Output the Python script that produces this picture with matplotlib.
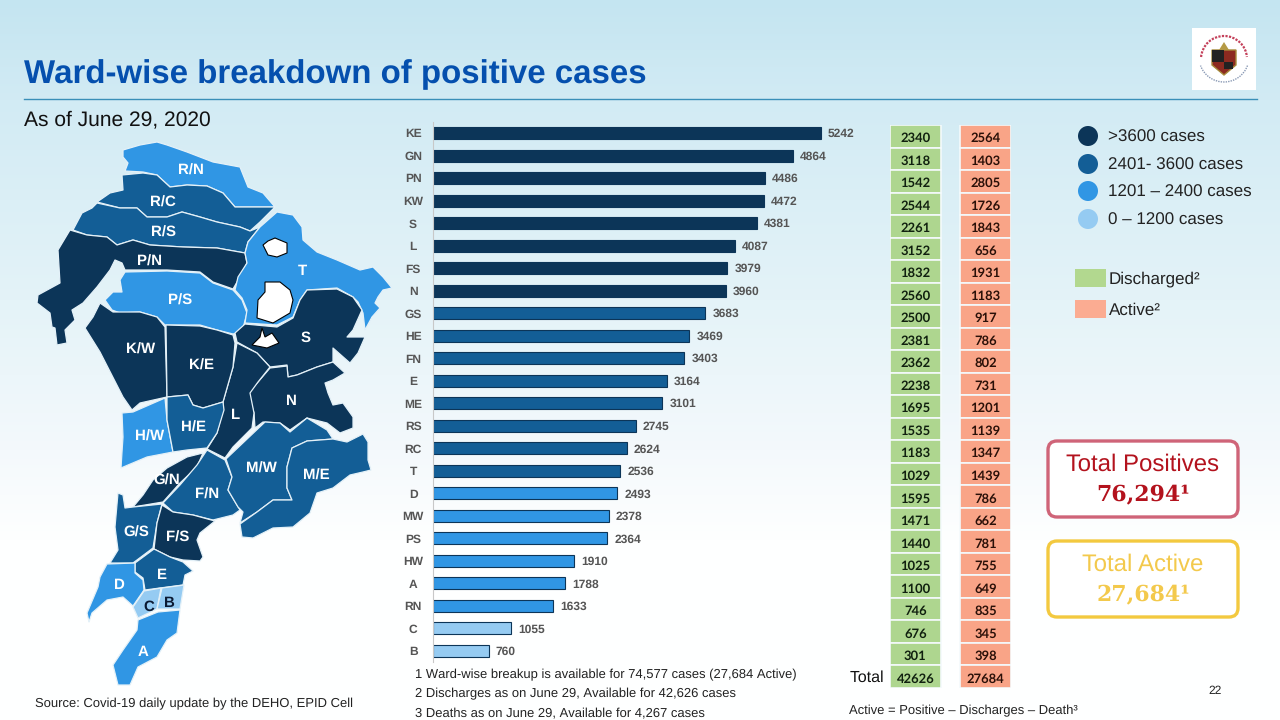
import numpy as np
import matplotlib
matplotlib.use("Agg")
import matplotlib.pyplot as plt
from matplotlib.patches import Polygon, Circle, Rectangle, FancyBboxPatch, Arc

plt.rcParams['font.family'] = ['Liberation Sans', 'DejaVu Sans']
plt.rcParams['text.hinting'] = 'no_hinting'
plt.rcParams['text.hinting_factor'] = 1

# data
wards = ["KE", "GN", "PN", "KW", "S", "L", "FS", "N", "GS", "HE", "FN", "E",
         "ME", "RS", "RC", "T", "D", "MW", "PS", "HW", "A", "RN", "C", "B"]
positives = [5242, 4864, 4486, 4472, 4381, 4087, 3979, 3960, 3683, 3469, 3403, 3164,
             3101, 2745, 2624, 2536, 2493, 2378, 2364, 1910, 1788, 1633, 1055, 760]
# colour band of each bar on the slide: 0 darkest .. 3 lightest
bar_bands = [0, 0, 0, 0, 0, 0, 0, 0, 1, 1, 1, 1,
             1, 1, 1, 1, 2, 2, 2, 2, 2, 2, 3, 3]
discharged = [2340, 3118, 1542, 2544, 2261, 3152, 1832, 2560, 2500, 2381, 2362, 2238,
              1695, 1535, 1183, 1029, 1595, 1471, 1440, 1025, 1100, 746, 676, 301]
active = [2564, 1403, 2805, 1726, 1843, 656, 1931, 1183, 917, 786, 802, 731,
          1201, 1139, 1347, 1439, 786, 662, 781, 755, 649, 835, 345, 398]
total_discharged = 42626
total_active = 27684

legend_labels = [">3600 cases", "2401- 3600 cases", "1201 – 2400 cases", "0 – 1200 cases"]
footnotes = ["1 Ward-wise breakup is available for 74,577 cases (27,684 Active)",
             "2 Discharges as on June 29, Available for 42,626 cases",
             "3 Deaths as on June 29, Available for 4,267 cases"]

DARK, MID, BRIGHT, LIGHT = "#0c3558", "#135e96", "#3096e4", "#95cbf2"
GREEN, SALMON = "#aed68f", "#f9a487"
BAND_COLORS = [DARK, MID, BRIGHT, LIGHT]

# ward outlines of the map, traced in slide pixels: label, band, label position, outline
map_shapes = [
    ("R/N", 2, (191, 171), [(123,150),(140,145),(157,142),(167,145),(187,152),(213,162),(240,167),(248,187),(263,193),(275,207),(260,207),(235,207),(223,193),(207,186),(187,185),(170,187),(157,175),(143,172),(125,171),(128,163),(123,157)]),
    ("R/C", 1, (163, 203), [(97,202),(110,193),(123,190),(122,175),(143,173),(157,175),(170,187),(187,185),(207,186),(223,193),(235,207),(260,207),(275,207),(260,222),(250,231),(240,227),(217,222),(200,217),(182,212),(167,217),(147,217),(137,208),(120,208)]),
    ("R/S", 1, (163, 233), [(73,230),(82,213),(92,208),(97,203),(120,208),(137,208),(147,217),(167,217),(182,212),(200,217),(217,222),(240,227),(250,231),(260,227),(248,242),(245,253),(217,248),(183,247),(150,245),(133,240),(117,245),(107,237),(87,235)]),
    ("P/N", 0, (149, 262), [(70,230),(87,235),(107,237),(117,245),(133,240),(150,245),(183,247),(217,248),(245,253),(247,263),(240,277),(233,289),(213,282),(200,272),(167,270),(125,270),(122,263),(115,260),(110,270),(97,287),(83,303),(72,310),(75,320),(65,330),(67,343),(57,345),(55,328),(52,327),(50,313),(37,303),(38,295),(60,283),(58,250)]),
    ("P/S", 2, (180, 301), [(125,272),(167,271),(200,273),(213,283),(233,290),(242,300),(247,313),(242,332),(233,334),(217,330),(200,325),(165,325),(157,317),(140,312),(120,313),(112,310),(105,300),(113,292),(122,292),(120,280)]),
    ("T", 2, (302, 271), [(277,212),(293,215),(302,227),(303,240),(317,252),(337,260),(360,270),(373,267),(383,277),(392,288),(383,290),(378,297),(375,303),(380,308),(372,317),(365,330),(363,313),(358,302),(353,297),(337,288),(307,290),(300,300),(293,317),(277,325),(245,323),(247,310),(242,298),(235,290),(238,277),(247,263),(245,253),(248,242),(260,227)]),
    ("S", 0, (306, 338), [(245,324),(277,327),(293,318),(300,300),(307,290),(337,289),(353,297),(362,310),(353,330),(347,337),(365,337),(358,353),(350,363),(333,348),(333,362),(317,367),(297,375),(288,377),(287,365),(270,367),(257,353),(237,342),(235,333)]),
    ("N", 0, (291, 401), [(270,368),(287,366),(288,377),(297,375),(317,367),(333,362),(345,373),(333,380),(325,383),(328,393),(333,405),(343,403),(353,417),(353,428),(340,433),(327,423),(307,418),(290,430),(280,423),(263,422),(255,428),(254,413),(248,393),(258,382)]),
    ("L", 0, (236, 415), [(237,343),(257,353),(270,367),(258,382),(250,393),(254,413),(252,428),(233,447),(225,458),(207,449),(217,433),(223,410),(223,402),(233,367)]),
    ("K/W", 0, (141, 350), [(100,303),(113,312),(140,312),(157,317),(165,327),(167,397),(140,403),(132,410),(123,397),(100,352),(85,328),(93,317)]),
    ("K/E", 0, (201, 366), [(166,325),(200,326),(217,330),(233,335),(235,343),(233,367),(223,402),(203,408),(193,405),(188,395),(167,397)]),
    ("H/W", 2, (150, 437), [(122,413),(133,412),(165,398),(167,420),(173,452),(147,457),(128,465),(121,468),(122,452),(123,437)]),
    ("H/E", 1, (193, 428), [(167,397),(188,395),(193,405),(203,408),(223,402),(224,410),(217,433),(207,448),(187,450),(173,452),(167,420)]),
    ("G/N", 0, (167, 481), [(203,453),(197,467),(180,483),(163,502),(133,507),(143,495),(153,480),(167,468),(187,457)]),
    ("F/N", 1, (207, 495), [(207,450),(225,460),(232,477),(228,490),(240,510),(233,515),(213,520),(193,515),(173,512),(163,503),(180,485),(197,465)]),
    ("M/W", 1, (261, 469), [(265,422),(280,423),(290,432),(307,418),(327,430),(333,439),(307,441),(292,448),(287,467),(287,488),(292,500),(273,500),(257,512),(240,523),(243,512),(238,507),(228,490),(232,477),(226,459)]),
    ("M/E", 1, (316, 476), [(240,524),(257,512),(273,500),(292,500),(287,488),(287,467),(292,448),(307,441),(333,439),(347,442),(363,434),(368,442),(368,460),(371,470),(363,472),(350,475),(333,488),(317,493),(310,513),(293,527),(273,528),(253,538),(242,537)]),
    ("G/S", 1, (136, 533), [(118,493),(123,495),(125,508),(133,507),(162,504),(157,523),(153,548),(133,563),(110,563),(118,550),(115,527)]),
    ("F/S", 0, (178, 538), [(162,505),(173,512),(193,515),(215,521),(200,533),(197,540),(203,557),(200,561),(183,560),(170,557),(154,549),(157,523)]),
    ("E", 1, (162, 575), [(154,549),(170,557),(183,562),(193,571),(185,575),(183,585),(160,588),(145,590),(143,578),(135,572),(135,563)]),
    ("D", 2, (119, 585), [(107,564),(135,563),(135,573),(143,580),(144,590),(133,606),(123,597),(107,600),(92,613),(89,622),(87,613),(98,587),(100,577)]),
    ("C", 3, (149, 607), [(144,591),(161,588),(157,609),(138,618),(133,607)]),
    ("B", 3, (169, 603), [(162,588),(184,585),(180,609),(157,609)]),
    ("A", 2, (143, 652), [(138,620),(158,612),(180,610),(177,633),(167,640),(157,657),(138,667),(130,685),(118,685),(113,665),(123,650),(137,630)]),
]
map_holes = [
    [(263,245),(268,241),(275,238),(287,243),(287,253),(277,257),(268,255)],
    [(265,282),(280,282),(290,290),(293,300),(290,313),(273,323),(257,318),(258,300),(265,292)],
    [(252,345),(260,337),(262,328),(265,337),(272,333),(279,343),(267,348)],
]

W, H = 1280, 720
fig = plt.figure(figsize=(12.8, 7.2), dpi=100)


def px_axes(x0, y0, x1, y1):
    return fig.add_axes([x0 / W, 1 - y1 / H, (x1 - x0) / W, (y1 - y0) / H])


# background gradient
bg = px_axes(0, 0, W, H)
rows = np.arange(H)
stops = [0, 100, 300, 450, 540, 720]
grad = np.stack([np.interp(rows, stops, [196, 210, 228, 244, 254, 255]),
                 np.interp(rows, stops, [229, 235, 243, 249, 255, 255]),
                 np.interp(rows, stops, [241, 244, 248, 252, 255, 255])], axis=1) / 255
bg.imshow(grad[:, None, :], aspect='auto', extent=[0, W, H, 0])
bg.set_axis_off()

# overlay in slide pixels for map, text and legend
ov = px_axes(0, 0, W, H)
ov.set_xlim(0, W)
ov.set_ylim(H, 0)
ov.set_axis_off()
ov.patch.set_alpha(0)

ov.text(24, 75, "Ward-wise breakdown of positive cases", fontsize=24, fontweight='bold',
        color="#0550ae", va='center')
ov.plot([24, 1257], [98.5, 98.5], color="#3a8fb8", lw=1)
ov.text(24, 120, "As of June 29, 2020", fontsize=15.15, color="#111111", va='center')

# map
for label, band, pos, outline in map_shapes:
    ov.add_patch(Polygon(outline, closed=True, facecolor=BAND_COLORS[band],
                         edgecolor="#e4f1f8", lw=0.9, joinstyle='round'))
    txt_col = "#0b1a33" if band == 3 else "white"
    ov.text(pos[0], pos[1], label, color=txt_col, fontsize=10.5, fontweight='bold',
            ha='center', va='center')
for hole in map_holes:
    ov.add_patch(Polygon(hole, closed=True, facecolor="white", edgecolor="black", lw=0.8))

ov.text(35, 704, "Source: Covid-19 daily update by the DEHO, EPID Cell", fontsize=9.7,
        color="#222222", va='center')

# bars
ax = px_axes(432.5, 122, 832.5, 662)
y = np.arange(len(wards))
bar_colors = [BAND_COLORS[b] for b in bar_bands]
ax.barh(y, positives, height=0.53, color=bar_colors, edgecolor=DARK, linewidth=0.8)
ax.set_xlim(0, 400 / (388 / 5242))
ax.set_ylim(23.49, -0.49)
ax.patch.set_alpha(0)
for s in ["top", "right", "bottom"]:
    ax.spines[s].set_visible(False)
ax.spines["left"].set_color("#c8c8c8")
ax.set_xticks([])
ax.set_yticks(y)
ax.set_yticklabels(wards, fontsize=8.3, fontweight='bold', color="#555555", ha='center')
ax.tick_params(axis='y', length=0, pad=14)
for yy, v in zip(y, positives):
    ax.annotate(str(v), (v, yy), xytext=(5.2, -0.7), textcoords='offset points', fontsize=8.3,
                fontweight='bold', color="#555555", va='center', annotation_clip=False)

# discharged / active columns
tb = px_axes(890, 125, 1011, 688)
n_rows = len(wards) + 1
tb.set_xlim(-0.36, 1.36)
tb.set_ylim(n_rows - 0.5, -0.5)
tb.set_axis_off()
tb.patch.set_alpha(0)
for col, vals, total, colr in [(0, discharged, total_discharged, GREEN),
                               (1, active, total_active, SALMON)]:
    col_vals = list(vals) + [total]
    tb.bar([col] * n_rows, [1] * n_rows, bottom=np.arange(n_rows) - 0.5, width=0.72,
           color=colr, edgecolor="#f4fafc", linewidth=1.2)
    for r, v in enumerate(col_vals):
        tb.annotate(str(v), (col, r), xytext=(0, -1.5), textcoords='offset points',
                    ha='center', va='center', fontsize=9.3, fontweight='bold',
                    color="#10200f" if col == 0 else "#2a1008", family='Lato')

ov.text(850, 678, "Total", fontsize=11.2, color="#111111", va='center')
ov.text(849, 711, "Active = Positive – Discharges – Death³", fontsize=9.7, color="#222222", va='center')

# footnotes
for fy, note in zip([675, 694, 714], footnotes):
    ov.text(415, fy, note, fontsize=9.7, color="#222222", va='center')

# legend
for cy, colr, lab in zip([136, 164, 191, 219], BAND_COLORS, legend_labels):
    ov.add_patch(Circle((1088, cy), 10, facecolor=colr, edgecolor='none'))
    ov.text(1108, cy + 1, lab, fontsize=12.5, color="#222222", va='center')
ov.add_patch(Rectangle((1075, 269), 31, 18, facecolor="#b2d88f", edgecolor='none'))
ov.add_patch(Rectangle((1075, 300), 31, 18, facecolor="#fbac92", edgecolor='none'))
ov.text(1109, 279, "Discharged²", fontsize=12.4, color="#222222", va='center')
ov.text(1109, 310, "Active²", fontsize=12.4, color="#222222", va='center')

# total boxes
for y0, edge, txt_col, head, num in [(441, "#cf6478", "#b3121d", "Total Positives", "76,294¹"),
                                     (541, "#f3c93f", "#f3c94c", "Total Active", "27,684¹")]:
    ov.add_patch(FancyBboxPatch((1056, y0 + 8), 174, 60, boxstyle="round,pad=8,rounding_size=9",
                                facecolor="white", edgecolor=edge, lw=2.4))
    ov.text(1143, y0 + 24, head, fontsize=17, color=txt_col, ha='center', va='center')
    ov.text(1143, y0 + 53, num, fontsize=16, fontweight='bold', color=txt_col, ha='center',
            va='center', family='DejaVu Serif')

ov.text(1215, 691, "22", fontsize=8.5, color="#222222", ha='center', va='center')

# logo
ov.add_patch(Rectangle((1192, 28), 64, 62, facecolor="white", edgecolor='none'))
ov.add_patch(Arc((1224, 59), 46, 46, theta1=185, theta2=355, color="#c4405a", lw=1.6, ls=(0, (1, 0.6))))
ov.add_patch(Arc((1224, 57), 50, 50, theta1=20, theta2=160, color="#8a9ab5", lw=1, ls=(0, (1, 0.8))))
ov.add_patch(Polygon([(1212, 50), (1236, 50), (1236, 65), (1224, 75), (1212, 65)], closed=True,
                     facecolor="#8c2a20", edgecolor="#a58a3a", lw=1))
ov.add_patch(Rectangle((1212, 50), 12, 12, facecolor="#222222", edgecolor='none'))
ov.add_patch(Rectangle((1224, 62), 9, 7, facecolor="#222222", edgecolor='none'))
ov.add_patch(Polygon([(1219, 50), (1224, 42), (1229, 50)], closed=True, facecolor="#b59a45", edgecolor='none'))

fig.savefig("out.png", dpi=100)
